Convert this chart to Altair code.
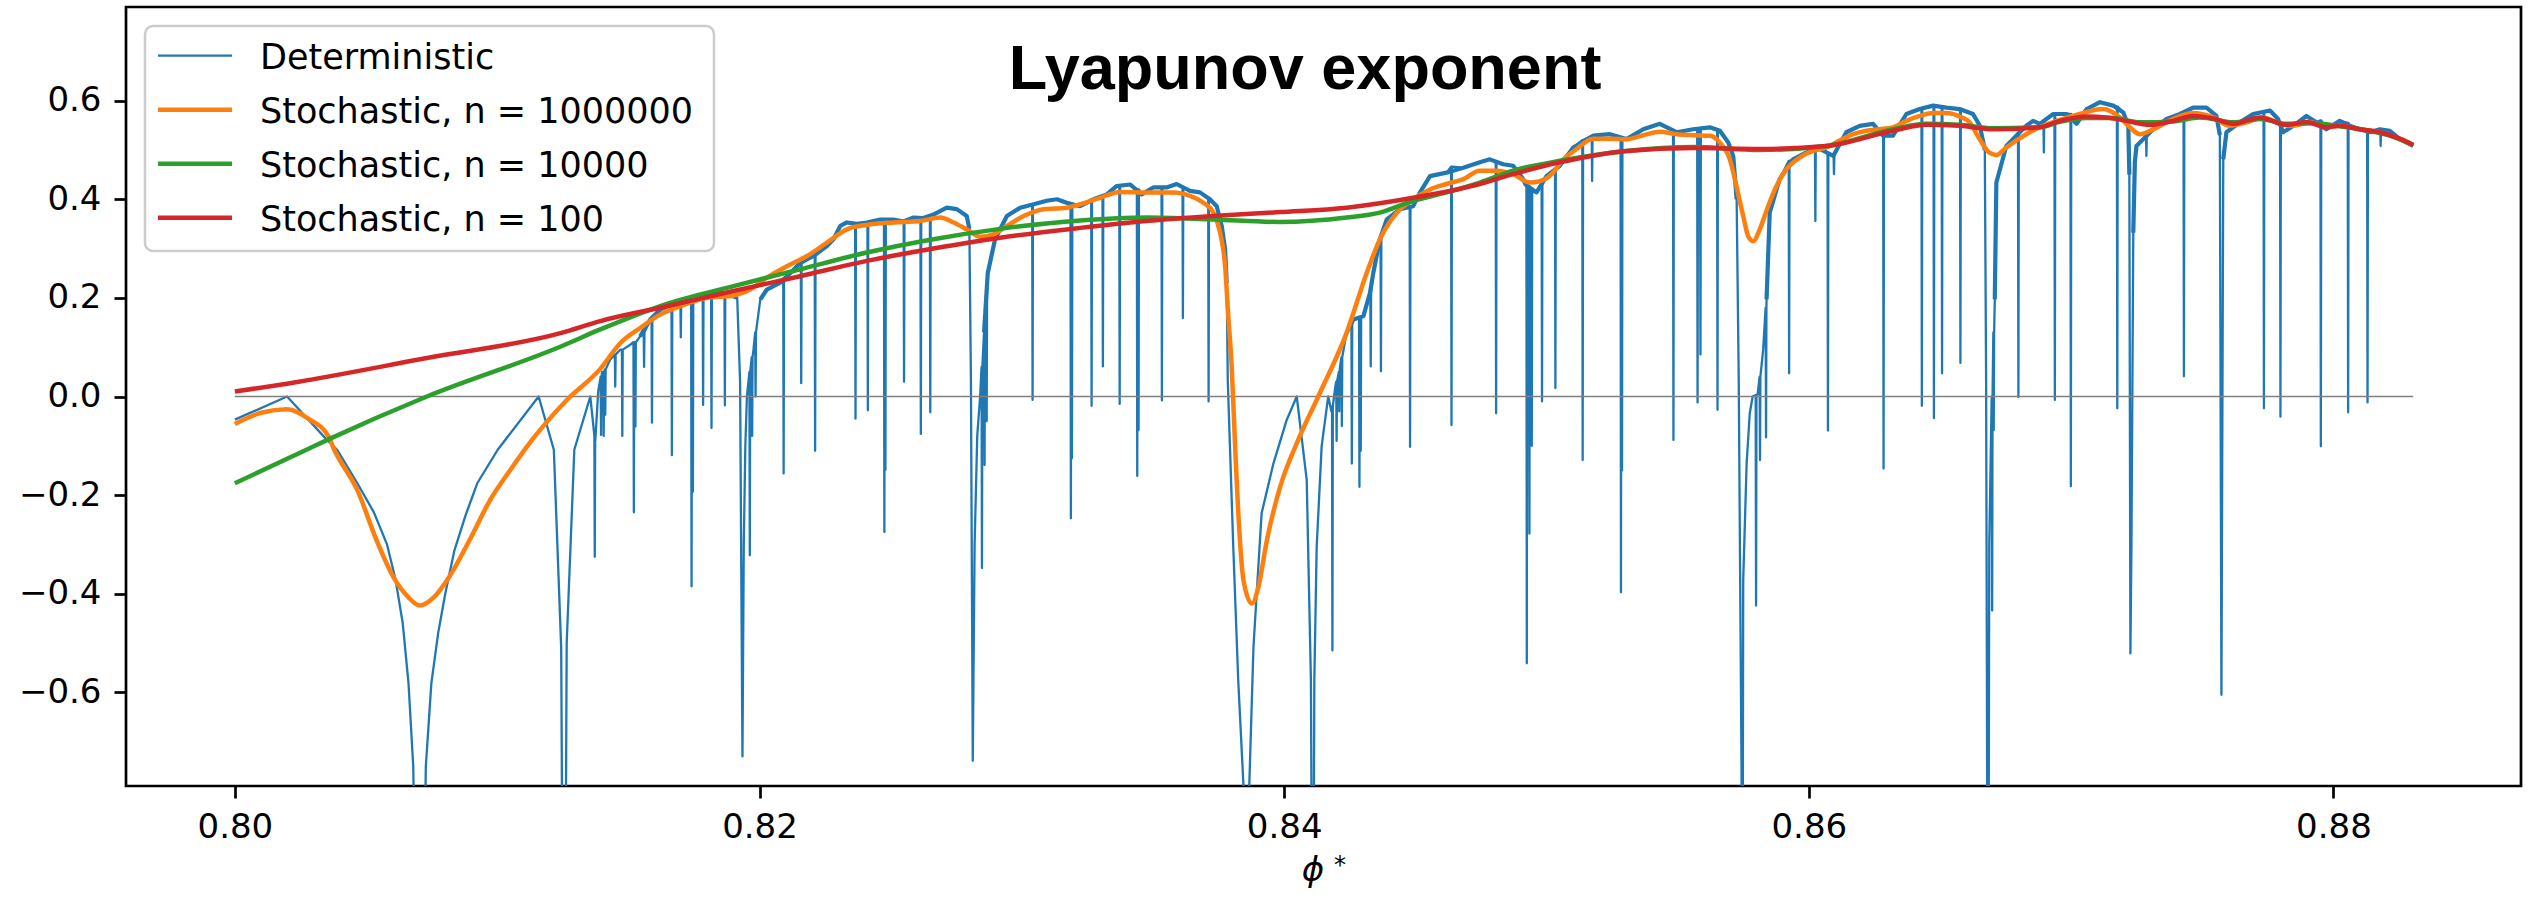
import altair as alt
import pandas as pd

# ---------------- data ----------------
# Deterministic exponent: envelope of the curve (cusps to -inf included)
det_phi = [
    0.80000, 0.80199, 0.80351, 0.80390, 0.80467, 0.80530, 0.80580, 0.80612, 0.80640, 0.80662,
    0.80680, 0.80705, 0.80728, 0.80749, 0.80775, 0.80802, 0.80837, 0.80880, 0.80924, 0.81002,
    0.81158, 0.81216, 0.81244, 0.81255, 0.81265, 0.81294, 0.81355, 0.81374, 0.81385, 0.81400,
    0.81431, 0.81469, 0.81507, 0.81545, 0.81583, 0.81621, 0.81660, 0.81711, 0.81761, 0.81813,
    0.81863, 0.81901, 0.81915, 0.81926, 0.81935, 0.81940, 0.81946, 0.81952, 0.81977, 0.82003,
    0.82028, 0.82079, 0.82117, 0.82155, 0.82206, 0.82257, 0.82282, 0.82308, 0.82333, 0.82371,
    0.82409, 0.82460, 0.82511, 0.82549, 0.82587, 0.82625, 0.82663, 0.82714, 0.82752, 0.82790,
    0.82800, 0.82806, 0.82813, 0.82820, 0.82830, 0.82841, 0.82856, 0.82870, 0.82898, 0.82943,
    0.82994, 0.83045, 0.83095, 0.83134, 0.83171, 0.83222, 0.83273, 0.83324, 0.83362, 0.83413,
    0.83457, 0.83501, 0.83552, 0.83590, 0.83641, 0.83679, 0.83717, 0.83743, 0.83762, 0.83775,
    0.83781, 0.83785, 0.83806, 0.83825, 0.83845, 0.83856, 0.83867, 0.83883, 0.83914, 0.83959,
    0.84010, 0.84048, 0.84086, 0.84102, 0.84110, 0.84115, 0.84124, 0.84143, 0.84168, 0.84180,
    0.84195, 0.84213, 0.84238, 0.84264, 0.84302, 0.84327, 0.84340, 0.84365, 0.84391, 0.84442,
    0.84492, 0.84518, 0.84556, 0.84619, 0.84683, 0.84746, 0.84784, 0.84835, 0.84873, 0.84911,
    0.84920, 0.84962, 0.85000, 0.85051, 0.85102, 0.85178, 0.85242, 0.85305, 0.85369, 0.85432,
    0.85496, 0.85559, 0.85623, 0.85661, 0.85693, 0.85712, 0.85725, 0.85733, 0.85744, 0.85746,
    0.85750, 0.85763, 0.85775, 0.85786, 0.85805, 0.85826, 0.85839, 0.85851, 0.85889, 0.85940,
    0.85991, 0.86042, 0.86093, 0.86143, 0.86194, 0.86245, 0.86283, 0.86321, 0.86372, 0.86423,
    0.86474, 0.86525, 0.86575, 0.86626, 0.86652, 0.86671, 0.86676, 0.86680, 0.86683, 0.86688,
    0.86697, 0.86709, 0.86715, 0.86753, 0.86791, 0.86829, 0.86855, 0.86881, 0.86932, 0.86983,
    0.87021, 0.87059, 0.87110, 0.87160, 0.87199, 0.87218, 0.87222, 0.87226, 0.87230, 0.87237,
    0.87243, 0.87249, 0.87275, 0.87313, 0.87364, 0.87415, 0.87465, 0.87516, 0.87554, 0.87567,
    0.87573, 0.87580, 0.87592, 0.87643, 0.87694, 0.87758, 0.87789, 0.87808, 0.87847, 0.87897,
    0.87935, 0.87973, 0.88024, 0.88062, 0.88100, 0.88139, 0.88177, 0.88215, 0.88253, 0.88291,
    0.88304,
]
det_lyap = [
    -0.047, 0.000, -0.088, -0.108, -0.176, -0.235, -0.300, -0.370, -0.460, -0.582,
    -0.750, -1.600, -0.750, -0.582, -0.480, -0.400, -0.312, -0.240, -0.176, -0.108,
    0.000, -0.108, -0.510, -1.600, -0.500, -0.108, 0.000, -0.090, 0.010, 0.050,
    0.075, 0.095, 0.105, 0.122, 0.156, 0.176, 0.186, 0.190, 0.200, 0.208,
    0.210, 0.203, 0.200, 0.030, -0.730, -0.300, -0.100, 0.000, 0.095, 0.197,
    0.217, 0.231, 0.250, 0.271, 0.285, 0.305, 0.319, 0.346, 0.353, 0.350,
    0.353, 0.359, 0.359, 0.355, 0.363, 0.362, 0.369, 0.383, 0.380, 0.366,
    0.340, 0.030, -0.739, -0.300, -0.080, 0.000, 0.130, 0.250, 0.319, 0.366,
    0.383, 0.390, 0.397, 0.400, 0.393, 0.386, 0.400, 0.410, 0.427, 0.430,
    0.410, 0.424, 0.424, 0.431, 0.417, 0.414, 0.400, 0.386, 0.346, 0.298,
    0.230, 0.034, -0.305, -0.576, -0.790, -1.600, -0.790, -0.508, -0.237, -0.136,
    -0.047, 0.000, -0.169, -0.576, -1.400, -0.576, -0.305, -0.100, 0.000, -0.030,
    0.020, 0.061, 0.129, 0.156, 0.163, 0.210, 0.251, 0.319, 0.359, 0.380,
    0.386, 0.414, 0.447, 0.454, 0.464, 0.475, 0.481, 0.471, 0.468, 0.441,
    0.430, 0.414, 0.447, 0.468, 0.505, 0.529, 0.532, 0.522, 0.542, 0.553,
    0.536, 0.542, 0.546, 0.539, 0.515, 0.488, 0.400, 0.030, -0.790, -1.600,
    -0.373, -0.136, -0.034, 0.000, 0.005, 0.095, 0.197, 0.373, 0.441, 0.481,
    0.495, 0.502, 0.488, 0.536, 0.549, 0.553, 0.529, 0.529, 0.573, 0.583,
    0.590, 0.586, 0.583, 0.573, 0.549, 0.500, 0.030, -0.790, -1.600, -0.300,
    -0.007, 0.197, 0.434, 0.508, 0.529, 0.549, 0.559, 0.553, 0.573, 0.573,
    0.553, 0.583, 0.597, 0.590, 0.576, 0.550, 0.450, -0.521, -0.300, 0.332,
    0.475, 0.508, 0.522, 0.542, 0.563, 0.573, 0.586, 0.586, 0.569, 0.530,
    -0.605, 0.481, 0.536, 0.556, 0.573, 0.580, 0.563, 0.536, 0.549, 0.569,
    0.556, 0.542, 0.559, 0.549, 0.542, 0.536, 0.542, 0.539, 0.522, 0.512,
    0.508,
]

# Narrow downward dips of the deterministic curve:
# position, level of the curve around the dip, bottom of the dip
dip_phi = [
    0.81372, 0.81396, 0.81406, 0.81412, 0.81450, 0.81477, 0.81521, 0.81527, 0.81560, 0.81590,
    0.81666, 0.81700, 0.81741, 0.81746, 0.81785, 0.81817, 0.81868, 0.81963, 0.81972, 0.81985,
    0.82092, 0.82159, 0.82212, 0.82366, 0.82413, 0.82476, 0.82480, 0.82551, 0.82615, 0.82651,
    0.82848, 0.82858, 0.82866, 0.83041, 0.83187, 0.83191,
    0.83266, 0.83309, 0.83373, 0.83440, 0.83445, 0.83534, 0.83614, 0.83712,
    0.84184, 0.84200, 0.84210, 0.84220, 0.84258, 0.84287, 0.84292, 0.84330, 0.84369, 0.84480,
    0.84638, 0.84808, 0.84925, 0.84935, 0.84944, 0.84983, 0.85034,
    0.85138, 0.85174, 0.85284, 0.85288, 0.85484, 0.85576, 0.85587, 0.85652, 0.85799, 0.85814,
    0.85837, 0.85925, 0.86025, 0.86073, 0.86096, 0.86285, 0.86431, 0.86477, 0.86508, 0.86578,
    0.86699, 0.86705, 0.86799, 0.86896,
    0.86938, 0.86999, 0.87176, 0.87287, 0.87430, 0.87735, 0.87798, 0.87952, 0.88056, 0.88130,
    0.88180,
]
dip_top = [
    -0.080, 0.040, 0.050, 0.055, 0.085, 0.095, 0.110, 0.110, 0.130, 0.156,
    0.186, 0.190, 0.195, 0.195, 0.200, 0.208, 0.210, 0.050, 0.080, 0.130,
    0.240, 0.270, 0.287, 0.350, 0.353, 0.359, 0.359, 0.357, 0.362, 0.366,
    0.060, 0.150, 0.216, 0.390, 0.390, 0.390,
    0.400, 0.405, 0.427, 0.420, 0.420, 0.424, 0.425, 0.402,
    -0.020, 0.030, 0.050, 0.080, 0.150, 0.160, 0.160, 0.210, 0.320, 0.384,
    0.466, 0.476, 0.430, 0.420, 0.415, 0.430, 0.460,
    0.520, 0.529, 0.525, 0.525, 0.540, 0.543, 0.544, 0.540, 0.003, 0.040,
    0.180, 0.478, 0.500, 0.495, 0.490, 0.529, 0.584, 0.590, 0.588, 0.583,
    0.000, 0.130, 0.535, 0.560,
    0.573, 0.573, 0.588, 0.530, 0.575, 0.578, 0.550, 0.560, 0.555, 0.540,
    0.542,
]
dip_floor = [
    -0.325, -0.078, -0.080, -0.037, 0.020, -0.080, -0.235, -0.061, 0.060, -0.053,
    -0.119, 0.120, -0.385, -0.193, -0.017, -0.064, -0.018, -0.322, -0.080, 0.000,
    -0.156, 0.027, -0.110, -0.045, -0.028, -0.275, -0.149, 0.030, -0.076, -0.032,
    -0.348, -0.139, -0.050, -0.007, -0.247, -0.125,
    -0.019, 0.061, -0.015, -0.161, -0.068, -0.008, 0.159, -0.010,
    -0.515, -0.090, -0.030, -0.060, -0.136, -0.183, -0.110, 0.061, 0.051, -0.102,
    -0.058, -0.034, -0.541, -0.278, -0.100, -0.010, 0.017,
    -0.129, 0.437, -0.397, -0.150, -0.088, -0.012, 0.085, -0.027, -0.424, -0.129,
    -0.083, 0.047, 0.356, -0.069, 0.451, -0.146, -0.019, -0.044, 0.047, 0.068,
    -0.434, -0.068, -0.001, 0.495,
    -0.007, -0.182, -0.024, 0.488, 0.041, -0.024, -0.041, -0.101, -0.032, -0.012,
    0.508,
]

# Stochastic exponent, n = 1000000
n1e6_phi = [
    0.80000, 0.80100, 0.80199, 0.80280, 0.80357, 0.80379, 0.80467, 0.80545, 0.80604, 0.80661,
    0.80705, 0.80759, 0.80817, 0.80895, 0.80973, 0.81050, 0.81133, 0.81260, 0.81393, 0.81469,
    0.81545, 0.81621, 0.81711, 0.81800, 0.81901, 0.81965, 0.82028, 0.82104, 0.82181, 0.82257,
    0.82333, 0.82409, 0.82511, 0.82612, 0.82689, 0.82740, 0.82790, 0.82841, 0.82892, 0.82943,
    0.83007, 0.83083, 0.83171, 0.83222, 0.83298, 0.83375, 0.83476, 0.83578, 0.83641, 0.83692,
    0.83730, 0.83756, 0.83775, 0.83787, 0.83800, 0.83813, 0.83829, 0.83845, 0.83877, 0.83902,
    0.83934, 0.83985, 0.84048, 0.84130, 0.84238, 0.84315, 0.84365, 0.84430, 0.84492, 0.84556,
    0.84619, 0.84683, 0.84746, 0.84810, 0.84873, 0.84937, 0.84975, 0.85025, 0.85051, 0.85115,
    0.85178, 0.85242, 0.85305, 0.85369, 0.85432, 0.85496, 0.85559, 0.85623, 0.85661, 0.85699,
    0.85724, 0.85750, 0.85769, 0.85788, 0.85813, 0.85845, 0.85877, 0.85915, 0.85966, 0.86016,
    0.86067, 0.86118, 0.86169, 0.86220, 0.86270, 0.86321, 0.86372, 0.86423, 0.86474, 0.86525,
    0.86575, 0.86613, 0.86651, 0.86690, 0.86715, 0.86753, 0.86791, 0.86829, 0.86880, 0.86957,
    0.87033, 0.87122, 0.87186, 0.87224, 0.87262, 0.87313, 0.87389, 0.87465, 0.87542, 0.87605,
    0.87669, 0.87732, 0.87796, 0.87846, 0.87910, 0.87973, 0.88024, 0.88100, 0.88177, 0.88253,
    0.88304,
]
n1e6_lyap = [
    -0.056, -0.033, -0.026, -0.045, -0.081, -0.108, -0.190, -0.298, -0.366, -0.407,
    -0.424, -0.407, -0.366, -0.291, -0.210, -0.149, -0.088, -0.010, 0.056, 0.108,
    0.139, 0.166, 0.186, 0.200, 0.205, 0.217, 0.241, 0.264, 0.285, 0.312,
    0.339, 0.348, 0.353, 0.356, 0.363, 0.353, 0.339, 0.324, 0.329, 0.346,
    0.366, 0.380, 0.383, 0.390, 0.403, 0.415, 0.414, 0.414, 0.407, 0.393,
    0.373, 0.332, 0.264, 0.163, 0.061, -0.100, -0.271, -0.373, -0.420, -0.386,
    -0.292, -0.183, -0.095, 0.000, 0.129, 0.251, 0.319, 0.373, 0.400, 0.420,
    0.431, 0.441, 0.458, 0.458, 0.451, 0.434, 0.437, 0.454, 0.473, 0.502,
    0.523, 0.523, 0.522, 0.530, 0.537, 0.532, 0.530, 0.529, 0.515, 0.481,
    0.427, 0.366, 0.325, 0.315, 0.339, 0.386, 0.427, 0.461, 0.485, 0.498,
    0.505, 0.519, 0.532, 0.539, 0.542, 0.546, 0.559, 0.569, 0.575, 0.575,
    0.568, 0.556, 0.522, 0.494, 0.490, 0.505, 0.519, 0.532, 0.546, 0.561,
    0.573, 0.583, 0.566, 0.546, 0.532, 0.542, 0.563, 0.575, 0.566, 0.549,
    0.556, 0.566, 0.553, 0.549, 0.556, 0.547, 0.549, 0.542, 0.536, 0.522,
    0.510,
]

# Stochastic exponent, n = 10000
n1e4_phi = [
    0.80000, 0.80273, 0.80357, 0.80732, 0.81245, 0.81393, 0.81647, 0.81901, 0.82155, 0.82409,
    0.82663, 0.82917, 0.83222, 0.83476, 0.83730, 0.83984, 0.84238, 0.84365, 0.84492, 0.84619,
    0.84746, 0.84873, 0.85051, 0.85305, 0.85559, 0.85813, 0.86067, 0.86321, 0.86448, 0.86575,
    0.86702, 0.86880, 0.86957, 0.87059, 0.87160, 0.87262, 0.87389, 0.87491, 0.87618, 0.87719,
    0.87821, 0.87923, 0.88024, 0.88126, 0.88227, 0.88304,
]
n1e4_lyap = [
    -0.176, -0.108, -0.087, 0.000, 0.102, 0.136, 0.188, 0.224, 0.258, 0.292,
    0.319, 0.340, 0.357, 0.363, 0.359, 0.354, 0.363, 0.373, 0.397, 0.414,
    0.434, 0.458, 0.478, 0.498, 0.506, 0.500, 0.508, 0.542, 0.553, 0.551,
    0.544, 0.546, 0.557, 0.565, 0.565, 0.556, 0.558, 0.566, 0.556, 0.563,
    0.553, 0.554, 0.548, 0.540, 0.527, 0.510,
]

# Stochastic exponent, n = 100
n100_phi = [
    0.80000, 0.80199, 0.80732, 0.81245, 0.81393, 0.81647, 0.81901, 0.82155, 0.82409, 0.82663,
    0.82917, 0.83222, 0.83476, 0.83730, 0.83984, 0.84238, 0.84492, 0.84746, 0.84873, 0.85051,
    0.85305, 0.85559, 0.85813, 0.86067, 0.86321, 0.86448, 0.86575, 0.86702, 0.86880, 0.86957,
    0.87059, 0.87135, 0.87211, 0.87300, 0.87389, 0.87465, 0.87542, 0.87618, 0.87719, 0.87821,
    0.87897, 0.87973, 0.88024, 0.88100, 0.88177, 0.88253, 0.88304,
]
n100_lyap = [
    0.010, 0.026, 0.078, 0.129, 0.153, 0.183, 0.214, 0.244, 0.275, 0.300,
    0.322, 0.342, 0.356, 0.366, 0.374, 0.383, 0.403, 0.431, 0.451, 0.475,
    0.498, 0.504, 0.502, 0.508, 0.539, 0.551, 0.549, 0.542, 0.546, 0.559,
    0.568, 0.566, 0.559, 0.551, 0.559, 0.569, 0.564, 0.553, 0.566, 0.551,
    0.557, 0.546, 0.549, 0.542, 0.536, 0.523, 0.510,
]

legend_labels = ["Deterministic", "Stochastic, n = 1000000",
                 "Stochastic, n = 10000", "Stochastic, n = 100"]
legend_colors = ["#1f77b4", "#ff7f0e", "#2ca02c", "#d62728"]
x_ticks = [0.80, 0.82, 0.84, 0.86, 0.88]
y_ticks = [-0.6, -0.4, -0.2, 0.0, 0.2, 0.4, 0.6]

# ---------------- tables ----------------
DIP_HALF_WIDTH = 0.000015
rows = list(zip(det_phi, det_lyap))
for p, t, f in zip(dip_phi, dip_top, dip_floor):
    rows += [(p - DIP_HALF_WIDTH, t), (p, f), (p + DIP_HALF_WIDTH, t)]
det_df = pd.DataFrame(rows, columns=["phi", "lyap"]).sort_values("phi", kind="stable")
det_df["idx"] = range(len(det_df))

# noisy plateau band of the deterministic curve: runs of the envelope above a level
BAND_LEVEL = 0.12
band_rows, seg, inside = [], 0, False
for p, v in zip(det_phi, det_lyap):
    if v >= BAND_LEVEL:
        if not inside:
            seg += 1
            inside = True
        band_rows.append((p, v, seg))
    else:
        inside = False
band_df = pd.DataFrame(band_rows, columns=["phi", "lyap", "seg"])
band_df["idx"] = range(len(band_df))


def series(phi, lyap):
    df = pd.DataFrame({"phi": phi, "lyap": lyap})
    df["idx"] = range(len(df))
    return df


# horizontal reference at zero across the sampled range
zero_df = pd.DataFrame({"phi": [det_phi[0], det_phi[-1]], "lyap": [0.0, 0.0], "idx": [0, 1]})

# ---------------- styling ----------------
W, H = 2395, 779
FONT = "DejaVu Sans"
x_scale = alt.Scale(domain=[0.79585, 0.88715], nice=False, zero=False)
y_scale = alt.Scale(domain=[-0.79, 0.79], nice=False, zero=False)
axis_common = dict(title=None, domain=False, grid=False, tickSize=12, tickWidth=2.7,
                   tickColor="black", labelFont=FONT, labelFontSize=34,
                   labelColor="black")
x_axis = alt.Axis(values=x_ticks, format=".2f", labelPadding=12, **axis_common)
y_axis = alt.Axis(values=y_ticks, format=".1f", labelPadding=13, **axis_common)


def line(df, color, width, interp="linear", detail=None):
    enc = dict(
        x=alt.X("phi:Q", scale=x_scale, axis=x_axis),
        y=alt.Y("lyap:Q", scale=y_scale, axis=y_axis),
        order="idx:Q")
    if detail:
        enc["detail"] = detail
    return alt.Chart(df).mark_line(color=color, strokeWidth=width, clip=True,
                                   strokeJoin="round", interpolate=interp).encode(**enc)


det_layer = line(det_df, legend_colors[0], 2.3)
band_layer = line(band_df, legend_colors[0], 4.2, detail="seg:N")
zero_layer = line(zero_df, "#808080", 1.7)
n1e6_layer = line(series(n1e6_phi, n1e6_lyap), legend_colors[1], 4.5, "monotone")
n1e4_layer = line(series(n1e4_phi, n1e4_lyap), legend_colors[2], 4.5, "monotone")
n100_layer = line(series(n100_phi, n100_lyap), legend_colors[3], 4.5, "monotone")

one = pd.DataFrame({"k": [0]})

title_layer = alt.Chart(one).mark_text(
    text="Lyapunov exponent", font="Liberation Sans", fontWeight="bold", fontSize=63,
    align="center", baseline="alphabetic", color="black").encode(
    x=alt.value(1179), y=alt.value(82))

phi_layer = alt.Chart(one).mark_text(
    text="ϕ", font=FONT, fontStyle="italic", fontSize=34, align="center",
    baseline="alphabetic", color="black").encode(x=alt.value(1187), y=alt.value(874))
star_layer = alt.Chart(one).mark_text(
    text="*", font=FONT, fontSize=24, align="center",
    baseline="alphabetic", color="black").encode(x=alt.value(1214), y=alt.value(866))

# legend box and entries
legend_box = alt.Chart(one).mark_rect(
    fill="white", fillOpacity=0.8, stroke="#cccccc", strokeWidth=2.5, cornerRadius=8).encode(
    x=alt.value(19), x2=alt.value(588), y=alt.value(19), y2=alt.value(244))
legend_layers = []
for i, (label, color) in enumerate(zip(legend_labels, legend_colors)):
    row_y = 48.7 + 54 * i
    entry = pd.DataFrame({"label": [label]})
    legend_layers.append(alt.Chart(entry).mark_rule(
        color=color, strokeWidth=2.3 if i == 0 else 4.5).encode(
        x=alt.value(32), x2=alt.value(106), y=alt.value(row_y)))
    legend_layers.append(alt.Chart(entry).mark_text(
        font=FONT, fontSize=35, align="left", baseline="alphabetic", color="black").encode(
        text="label:N", x=alt.value(134), y=alt.value(row_y + 13.3)))

chart = alt.layer(
    det_layer, band_layer, zero_layer, n1e6_layer, n1e4_layer, n100_layer,
    title_layer, phi_layer, star_layer, legend_box, *legend_layers,
).properties(
    width=W, height=H, autosize="none",
    padding={"left": 126, "top": 7, "right": 21, "bottom": 117},
    background="white",
).configure_view(stroke="black", strokeWidth=2.7)

chart.save("out.html", embed_options={"renderer": "svg", "actions": False})
